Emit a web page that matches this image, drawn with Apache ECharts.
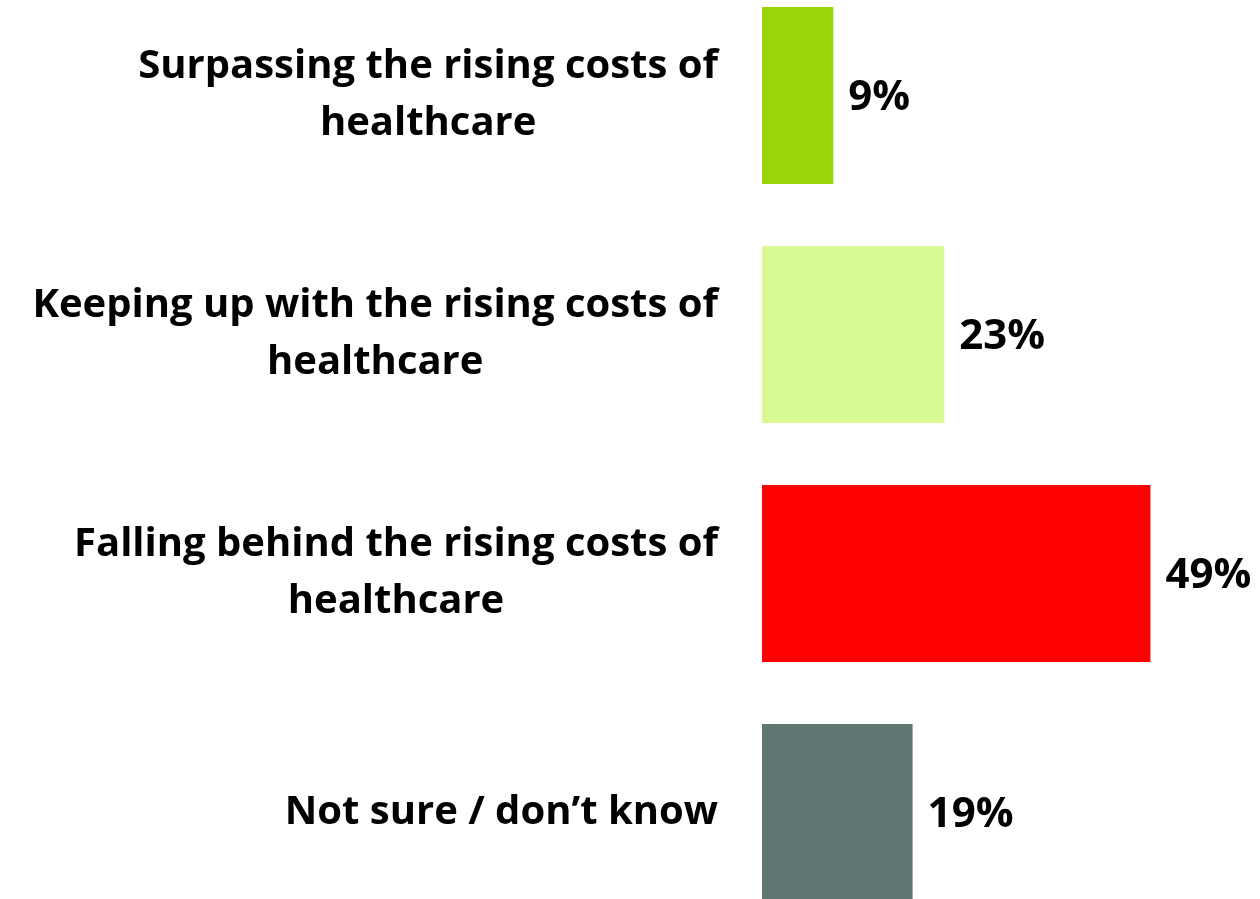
<!DOCTYPE html>
<html>
<head>
<meta charset="UTF-8">
<title>Healthcare costs</title>
<script src="https://cdn.jsdelivr.net/npm/echarts@6/dist/echarts.min.js"></script>
<style>
html, body { margin: 0; padding: 0; background: #fff; overflow: hidden; }
/* taller than the window so the four bands line up with the picture */
#main { width: 1260px; height: 956px; position: relative; top: -24px; }
</style>
</head>
<body>
<div id="main"></div>
<script type="text/javascript">
// categories, top to bottom
var categories = [
  'Surpassing the rising costs of\nhealthcare',
  'Keeping up with the rising costs of\nhealthcare',
  'Falling behind the rising costs of\nhealthcare',
  'Not sure / don\u2019t know'
];
var values = [9, 23, 49, 19];
var barColors = ['#98D50B', '#D9F992', '#FF0000', '#5F7873'];

var myChart = echarts.init(document.getElementById('main'));

var seriesData = [];
for (var i = 0; i < values.length; i++) {
  seriesData.push({ value: values[i], itemStyle: { color: barColors[i] } });
}

var option = {
  animation: false,
  grid: { left: 762, right: 62, top: 0, bottom: 0, containLabel: false },
  xAxis: {
    type: 'value',
    min: 0,
    max: 55,
    show: false
  },
  yAxis: {
    type: 'category',
    inverse: true,
    data: categories,
    axisLine: { show: false },
    axisTick: { show: false },
    splitLine: { show: false },
    axisLabel: {
      margin: 44,
      align: 'right',
      formatter: function (val) {
        // centre each line inside the right-aligned block
        return val.split('\n').map(function (s) { return '{a|' + s + '}'; }).join('\n');
      },
      rich: {
        a: {
          align: 'center',
          fontFamily: 'Open Sans',
          fontWeight: 'bold',
          fontSize: 40,
          lineHeight: 57,
          color: '#000'
        }
      }
    }
  },
  series: [{
    type: 'bar',
    data: seriesData,
    barWidth: 177,
    label: {
      show: true,
      position: 'right',
      distance: 15,
      offset: [0, 3],
      formatter: '{c}%',
      fontFamily: 'Open Sans',
      fontWeight: 'bold',
      fontSize: 42,
      color: '#000'
    }
  }]
};

myChart.setOption(option);
</script>
</body>
</html>
